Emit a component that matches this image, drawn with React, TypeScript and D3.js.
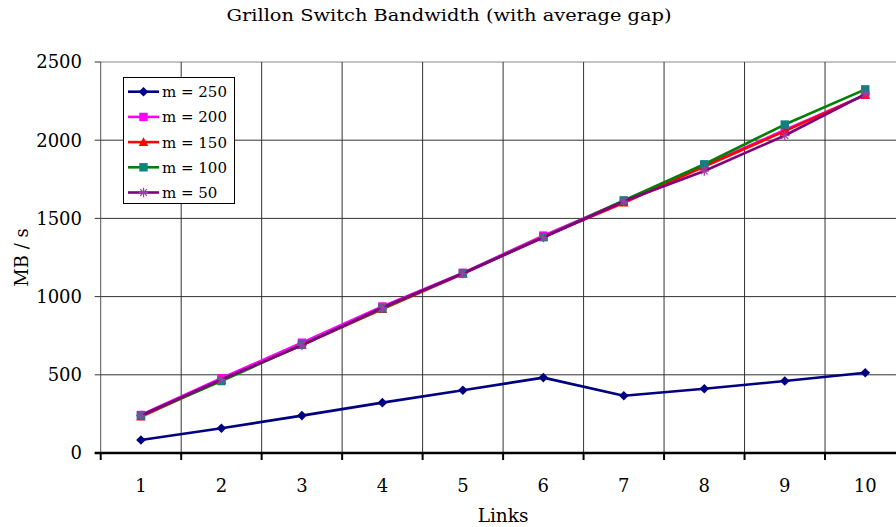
import React from "react";
import * as d3 from "d3";

const categories = [1, 2, 3, 4, 5, 6, 7, 8, 9, 10];
const seriesNames = ["m = 250", "m = 200", "m = 150", "m = 100", "m = 50"];
const m250 = [83, 158, 239, 322, 401, 482, 366, 411, 460, 513];
const m200 = [243, 478, 705, 937, 1152, 1390, 1612, 1838, 2065, 2290];
const m150 = [232, 466, 690, 920, 1145, 1382, 1600, 1832, 2058, 2290];
const m100 = [240, 460, 692, 925, 1150, 1380, 1615, 1846, 2100, 2325];
const m50 = [240, 470, 688, 930, 1148, 1378, 1610, 1803, 2030, 2295];
const yTicks = [0, 500, 1000, 1500, 2000, 2500];

const lineColors = ["#000080", "#FF00FF", "#FF0000", "#008000", "#800080"];
const markerColors = ["#000080", "#FF00FF", "#FF0000", "#108080", "#A040A0"];
const markerTypes = ["diamond", "square", "triangle", "square", "star"];

const W = 896;
const H = 527;
const plotLeft = 100.7;
const plotRight = 905.5;
const plotTop = 62;
const plotBottom = 453;
const FONT = "'DejaVu Serif', serif";

function Marker({ type, x, y, color }: { type: string; x: number; y: number; color: string }) {
  if (type === "diamond") {
    const s = 4.8;
    return <path d={`M${x},${y - s}L${x + s},${y}L${x},${y + s}L${x - s},${y}Z`} fill={color} />;
  }
  if (type === "square") {
    const s = 4.2;
    return <rect x={x - s} y={y - s} width={2 * s} height={2 * s} fill={color} />;
  }
  if (type === "triangle") {
    const s = 4.8;
    return <path d={`M${x},${y - s}L${x + s},${y + s * 0.8}L${x - s},${y + s * 0.8}Z`} fill={color} />;
  }
  const s = 4.8;
  return (
    <g stroke={color} strokeWidth={1.3}>
      <line x1={x - s} y1={y} x2={x + s} y2={y} />
      <line x1={x} y1={y - s} x2={x} y2={y + s} />
      <line x1={x - s * 0.7} y1={y - s * 0.7} x2={x + s * 0.7} y2={y + s * 0.7} />
      <line x1={x - s * 0.7} y1={y + s * 0.7} x2={x + s * 0.7} y2={y - s * 0.7} />
    </g>
  );
}

export default function App() {
  const allSeries = [m250, m200, m150, m100, m50];
  const x = d3
    .scaleBand<number>()
    .domain(categories)
    .range([plotLeft, plotRight])
    .paddingInner(0)
    .paddingOuter(0);
  const bw = x.bandwidth();
  const cx = (c: number) => (x(c) as number) + bw / 2;
  const y = d3.scaleLinear().domain([0, 2500]).range([plotBottom, plotTop]);
  const line = d3
    .line<number>()
    .x((_, i) => cx(categories[i]))
    .y((d) => y(d));

  const boundaries = categories.map((c) => x(c) as number).concat([plotRight]);

  return (
    <svg
      width={W}
      height={H}
      style={{ position: "absolute", left: 0, top: 0, background: "#fff" }}
      fontFamily={FONT}
    >
      <rect x={0} y={0} width={W} height={H} fill="#fff" />
      <text x={449} y={21} textAnchor="middle" fontSize={17.5} fill="#000" textLength={445} lengthAdjust="spacingAndGlyphs">
        Grillon Switch Bandwidth (with average gap)
      </text>

      {/* horizontal gridlines */}
      {yTicks.map((t) => (
        <line key={"h" + t} x1={plotLeft} x2={plotRight} y1={y(t)} y2={y(t)} stroke={t === 2500 ? "#888" : "#333"} strokeWidth={1} />
      ))}
      {/* vertical gridlines */}
      {boundaries.slice(1, -1).map((b, i) => (
        <line key={"v" + i} x1={b} x2={b} y1={plotTop} y2={plotBottom} stroke="#333" strokeWidth={1} />
      ))}
      {/* y axis */}
      <line x1={plotLeft} x2={plotLeft} y1={plotTop} y2={plotBottom} stroke="#555" strokeWidth={1} />
      {yTicks.map((t) => (
        <g key={"yt" + t}>
          <line x1={plotLeft - 6} x2={plotLeft} y1={y(t)} y2={y(t)} stroke="#333" strokeWidth={1} />
          <text x={82} y={y(t)} dy="0.36em" textAnchor="end" fontSize={18} fill="#000">
            {t}
          </text>
        </g>
      ))}
      {/* x axis */}
      <line x1={plotLeft - 6} x2={W} y1={plotBottom} y2={plotBottom} stroke="#000" strokeWidth={2.5} />
      {boundaries.map((b, i) => (
        <line key={"xt" + i} x1={b} x2={b} y1={plotBottom} y2={plotBottom + 7} stroke="#000" strokeWidth={2} />
      ))}
      {categories.map((c) => (
        <text key={"xl" + c} x={cx(c)} y={491.5} textAnchor="middle" fontSize={18} fill="#000">
          {c}
        </text>
      ))}
      <text x={(plotLeft + plotRight) / 2} y={521.5} textAnchor="middle" fontSize={18.5} fill="#000">
        Links
      </text>
      <text
        transform={`translate(28,${(plotTop + plotBottom) / 2}) rotate(-90)`}
        textAnchor="middle"
        fontSize={18}
        fill="#000"
      >
        MB / s
      </text>

      {/* series */}
      {allSeries.map((s, si) => (
        <g key={"s" + si}>
          <path d={line(s) || ""} fill="none" stroke={lineColors[si]} strokeWidth={2.6} strokeLinejoin="round" />
          {s.map((v, i) => (
            <Marker key={i} type={markerTypes[si]} x={cx(categories[i])} y={y(v)} color={markerColors[si]} />
          ))}
        </g>
      ))}

      {/* legend */}
      <rect x={123.5} y={77.5} width={111} height={126} fill="#fff" stroke="#000" strokeWidth={1} />
      {seriesNames.map((n, i) => {
        const ly = 91.7 + i * 25.2;
        return (
          <g key={"lg" + i}>
            <line x1={128} x2={159} y1={ly} y2={ly} stroke={lineColors[i]} strokeWidth={2.6} />
            <Marker type={markerTypes[i]} x={143.5} y={ly} color={markerColors[i]} />
            <text x={162} y={ly} dy="0.36em" fontSize={15} fill="#000">
              {n}
            </text>
          </g>
        );
      })}
    </svg>
  );
}
